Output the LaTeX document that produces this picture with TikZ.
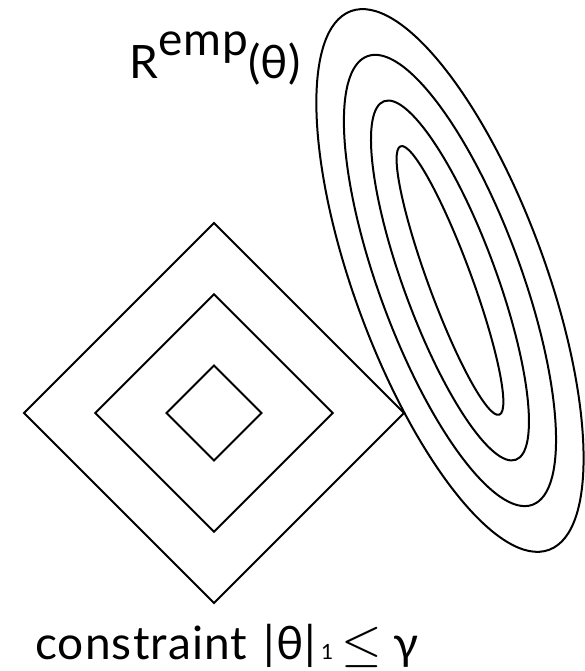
\documentclass[tikz,border=0pt]{standalone}
\usepackage{fontspec}
\usepackage{graphicx}
\setmainfont[LetterSpace=2.5]{Lato}
\usetikzlibrary{positioning}

\begin{document}
\begin{tikzpicture}[
    x=1pt,
    y=1pt,
    contour/.style={
        draw,
        line width=2pt,
    },
    caption/.style={
        font=\fontsize{46}{50}\selectfont,
        inner sep=0pt,
        anchor=base west,
    },
]

    \useasboundingbox (0,0) rectangle (584,671);

    % constraint region
    \coordinate (ball) at (214,258);
    \draw[contour] (ball) ++(-190,0) -- ++(190,190) -- ++(190,-190) -- ++(-190,-190) -- cycle;
    \draw[contour] (ball) ++(-118.75,0) -- ++(118.75,118.75) -- ++(118.75,-118.75) -- ++(-118.75,-118.75) -- cycle;
    \draw[contour] (ball) ++(-47.5,0) -- ++(47.5,47.5) -- ++(47.5,-47.5) -- ++(-47.5,-47.5) -- cycle;

    % level sets of the risk
    \coordinate (risk) at (450,390.5);
    \draw[contour, rotate around={-69.8:(risk)}] (risk) ellipse (287 and 95.5);
    \draw[contour, rotate around={-69.8:(risk)}] (risk) ellipse (239 and 71);
    \draw[contour, rotate around={-69.8:(risk)}] (risk) ellipse (191 and 46.3);
    \draw[contour, rotate around={-69.8:(risk)}] (risk) ellipse (143 and 21.6);

    % labels
    \node[caption] (risk_label) at (129,592)
        {R\raisebox{23pt}{emp}(θ)};
    \node[caption] (ball_label) at (35,11)
        {constraint \kern3pt|θ|{\fontsize{21}{21}\selectfont\kern5pt 1\kern8pt}%
         \scalebox{2.1}{$\le$}\kern12pt γ};

\end{tikzpicture}
\end{document}
